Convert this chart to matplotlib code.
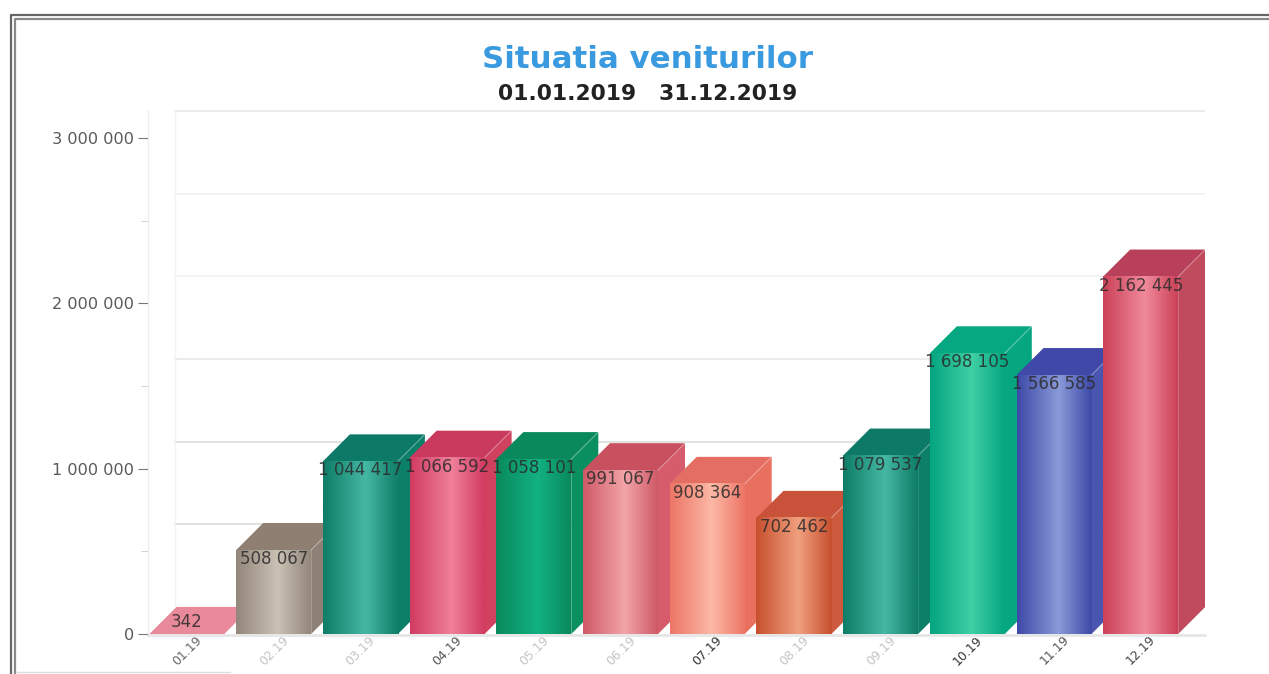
import numpy as np
import matplotlib
matplotlib.use("Agg")
import matplotlib.pyplot as plt
from matplotlib.colors import LinearSegmentedColormap
from matplotlib.patches import Polygon
from matplotlib.transforms import ScaledTranslation

months = ["01.19", "02.19", "03.19", "04.19", "05.19", "06.19",
          "07.19", "08.19", "09.19", "10.19", "11.19", "12.19"]
month_colors = ["#666666", "#c4c4c4", "#c4c4c4", "#555555", "#c4c4c4", "#c4c4c4",
                "#333333", "#c4c4c4", "#c4c4c4", "#333333", "#555555", "#444444"]
venituri = [342, 508067, 1044417, 1066592, 1058101, 991067,
            908364, 702462, 1079537, 1698105, 1566585, 2162445]
value_labels = ["342", "508 067", "1 044 417", "1 066 592", "1 058 101", "991 067",
                "908 364", "702 462", "1 079 537", "1 698 105", "1 566 585", "2 162 445"]
edge_colors = ["#e98a9a", "#94877b", "#0f7d68", "#d23c62", "#0a8a5c", "#cf5a68",
               "#ee7668", "#c8502f", "#0f7d68", "#05a680", "#3e4aa8", "#cc4258"]
mid_colors = ["#e98a9a", "#cbc1b5", "#45b8a3", "#f0809a", "#12b183", "#f2a5a8",
              "#fcb9a6", "#f0a07f", "#45b8a3", "#3fd0a5", "#8a9ad8", "#f08a9c"]
top_colors = ["#e98a9a", "#8e7f72", "#0c7a66", "#c93a5e", "#0a8a5c", "#c8505f",
              "#e56e62", "#c9533a", "#0c7a66", "#05a880", "#4048a8", "#b8405a"]
side_colors = ["#e98a9a", "#8e8074", "#0c7f69", "#d0405f", "#0a8f60", "#d65b6b",
               "#e8705f", "#cd5a3e", "#0c7f69", "#05a680", "#4a55b0", "#c04a5e"]
y_ticks = [0, 1000000, 2000000, 3000000]
y_tick_labels = ["0", "1 000 000", "2 000 000", "3 000 000"]
grid_values = [500000, 1000000, 1500000, 2000000, 2500000, 3000000]
grid_colors = ["#dcdcdc", "#dcdcdc", "#e8e8e8", "#f0f0f0", "#efefef", "#e8e8e8"]

W, H = 1269, 674
L, R, B, T = 148, 1205, 634, 110
C0 = 187
fig = plt.figure(figsize=(W / 100, H / 100), dpi=100)
ax = fig.add_axes([L / W, 1 - B / H, (R - L) / W, (B - T) / H])

px_y = 1000000 / 165.3
px_x = 1 / 86.7
xlim = ((L - C0) * px_x, (R - C0) * px_x)
ylim = (0, (B - T) * px_y)
width = 75 * px_x
dx = 27 * px_x
dy = 27 * px_y

# back wall
for v, c in zip(grid_values, grid_colors):
    ax.plot([xlim[0] + dx, xlim[1]], [v + dy, v + dy], color=c, lw=1.2, zorder=1)
ax.plot([xlim[0] + dx] * 2, [dy, 3000000 + dy], color="#f3f3f3", lw=1, zorder=1)
ax.plot(xlim, [-5000, -5000], color="#e6e6e6", lw=2, zorder=1, clip_on=False)

grad = np.linspace(0, 1, 64).reshape(1, -1)
for i, val in enumerate(venituri):
    x0 = i - width / 2
    x1 = i + width / 2
    z = 3 + i
    ax.add_patch(Polygon([(x0, val), (x1, val), (x1 + dx, val + dy), (x0 + dx, val + dy)],
                         fc=top_colors[i], ec="none", zorder=z))
    ax.add_patch(Polygon([(x1, 0), (x1 + dx, dy), (x1 + dx, val + dy), (x1, val)],
                         fc=side_colors[i], ec="none", zorder=z))
    cmap = LinearSegmentedColormap.from_list(
        "b", [(0, edge_colors[i]), (0.56, mid_colors[i]), (1, edge_colors[i])])
    ax.imshow(grad, extent=(x0, x1, 0, val), cmap=cmap, aspect="auto", zorder=z, interpolation="bilinear")
    # lighter ridge between top and side
    ax.plot([x1, x1 + dx], [val, val + dy], color="white", alpha=0.2, lw=1, zorder=z)

ax.set_xlim(xlim)
ax.set_ylim(ylim)

for i, val in enumerate(venituri):
    ypos = max(val - 9 * px_y, 12 * px_y)
    ax.text(i, ypos, value_labels[i], ha="center", va="center", fontsize=12,
            color="#2a2a2a", alpha=0.85, zorder=30, clip_on=False)

for s in ["top", "right", "bottom"]:
    ax.spines[s].set_visible(False)
ax.spines["left"].set_color("#ececec")
ax.patch.set_alpha(0)
ax.set_yticks(y_ticks)
ax.set_yticklabels(y_tick_labels, fontsize=11.6, color="#5a5a5a")
ax.set_yticks([500000, 1500000, 2500000], minor=True)
ax.tick_params(axis="y", which="major", length=7, color="#777777", pad=3)
ax.tick_params(axis="y", which="minor", length=5, color="#cccccc")
ax.set_xticks(range(12))
ax.set_xticklabels(months, rotation=45, ha="right", rotation_mode="anchor", fontsize=9)
ax.tick_params(axis="x", length=0, pad=-0.5)
shift = ScaledTranslation(6 / 72, 0, fig.dpi_scale_trans)
for lab, c in zip(ax.get_xticklabels(), month_colors):
    lab.set_color(c)
    lab.set_transform(lab.get_transform() + shift)

fig.text(647.5 / W, 1 - 59 / H, "Situatia veniturilor", ha="center", va="center",
         fontsize=22.2, fontweight="bold", color="#3a9ae0")
fig.text(648 / W, 1 - 94 / H, "01.01.2019   31.12.2019", ha="center", va="center",
         fontsize=15.7, fontweight="bold", color="#222222")

# outer frame, double line
for off, c in zip([0, 4], ["#666666", "#888888"]):
    fig.add_artist(plt.Line2D([(11 + off) / W, (11 + off) / W, 1], [0, 1 - (15 + off) / H, 1 - (15 + off) / H],
                              color=c, lw=1.6))
fig.add_artist(plt.Line2D([16 / W, 230 / W], [1 - 672 / H] * 2, color="#dddddd", lw=1))

fig.savefig("out.png", dpi=100)
